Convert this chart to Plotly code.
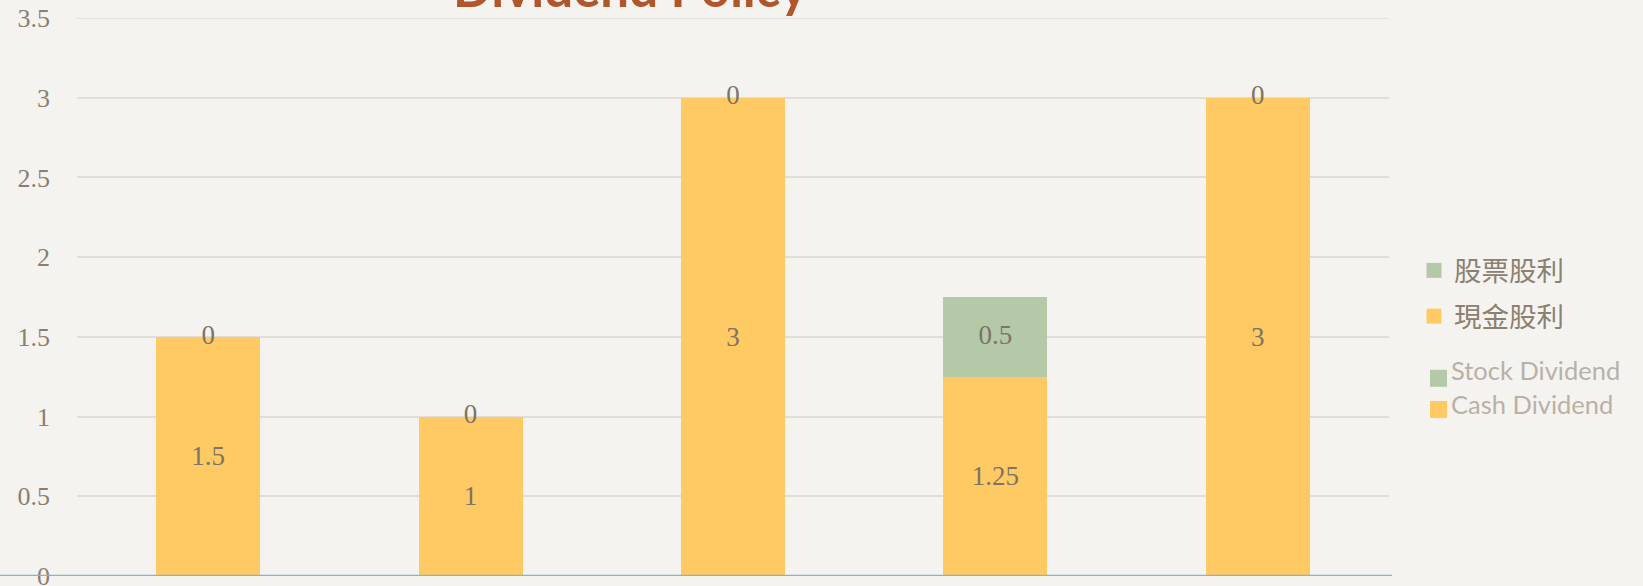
import plotly.graph_objects as go

# ---- data ----
categories = ["1", "2", "3", "4", "5"]
cash_dividend = [1.5, 1.0, 3.0, 1.25, 3.0]
stock_dividend = [0.0, 0.0, 0.0, 0.5, 0.0]
legend_zh = ["股票股利", "現金股利"]
legend_en = ["Stock Dividend", "Cash Dividend"]
y_ticks = [0, 0.5, 1, 1.5, 2, 2.5, 3, 3.5]
y_tick_labels = ["0", "0.5", "1", "1.5", "2", "2.5", "3", "3.5"]
y_max = 3.5
title_text = "Dividend Policy"

# ---- style ----
W, H = 1643, 586
ML, MR, MT, MB = 77, 254, 18, 10
PW, PH = W - ML - MR, H - MT - MB
ORANGE = "#FFCA63"
GREEN = "#B4C9A8"
BG = "#F4F3F0"
GRID = "#E2DDD7"
LABEL_C = "#7C7466"
TICK_C = "#8A7F70"


def px_x(x):
    return (x - ML) / PW


def px_y(y):
    return (H - MB - y) / PH


fig = go.Figure()

fig.add_trace(go.Bar(
    x=categories, y=cash_dividend, name=legend_zh[1],
    marker=dict(color=ORANGE, line=dict(width=0)),
    text=[f"{v:g}" for v in cash_dividend], texttemplate="%{text}",
    textposition="inside", insidetextanchor="middle", textangle=0,
    insidetextfont=dict(family="Liberation Serif", size=27, color=LABEL_C),
    showlegend=False, hoverinfo="skip",
))
fig.add_trace(go.Bar(
    x=categories, y=stock_dividend, name=legend_zh[0],
    marker=dict(color=GREEN, line=dict(width=0)),
    showlegend=False, hoverinfo="skip",
))
# labels for stock dividend segments (centred on segment, also for zero values)
fig.add_trace(go.Scatter(
    x=categories, y=[c + s / 2 for c, s in zip(cash_dividend, stock_dividend)],
    mode="text", text=[f"{v:g}" for v in stock_dividend],
    textfont=dict(family="Liberation Serif", size=27, color=LABEL_C),
    showlegend=False, hoverinfo="skip", cliponaxis=False,
))
# legend entries (Chinese)
for name, col, grp in [(legend_zh[0], GREEN, "g1"), (legend_zh[1], ORANGE, "g2")]:
    fig.add_trace(go.Scatter(
        x=[None], y=[None], mode="markers", name=name, legendgroup=grp,
        marker=dict(symbol="square", size=15, color=col),
    ))

shapes = [
    # top gridline (plotly omits the one at the range edge)
    dict(type="line", xref="paper", yref="y", x0=0, x1=1, y0=y_max, y1=y_max,
         line=dict(color=GRID, width=1.5), layer="below"),
    dict(type="line", xref="paper", yref="y", x0=px_x(0), x1=px_x(1392), y0=0, y1=0,
         line=dict(color="#8DB3C3", width=2.5), layer="above"),
]
annotations = [
    dict(text=f"<b>{title_text}</b>", xref="paper", yref="paper",
         x=px_x(630), y=px_y(20), xanchor="center", yanchor="bottom",
         showarrow=False, font=dict(family="Lato", size=51, color="#B0562B")),
]
# English legend overlay
sq_centres = [378.3, 409.5]
txt_centres = [369.5, 404.0]
for name, col, cy, ty in zip(legend_en, [GREEN, ORANGE], sq_centres, txt_centres):
    shapes.append(dict(type="rect", xref="paper", yref="paper",
                       x0=px_x(1430), x1=px_x(1447), y0=px_y(cy - 8.5), y1=px_y(cy + 8.5),
                       fillcolor=col, line=dict(width=0)))
    annotations.append(dict(text=name, xref="paper", yref="paper",
                            x=px_x(1449), y=px_y(ty), xanchor="left", yanchor="middle",
                            showarrow=False,
                            font=dict(family="Lato", size=25.5, color="#B9B1A6")))

fig.update_layout(
    width=W, height=H,
    margin=dict(l=ML, r=MR, t=MT, b=MB, pad=0, autoexpand=False),
    paper_bgcolor=BG, plot_bgcolor=BG,
    barmode="stack", bargap=0.604,
    showlegend=True,
    legend=dict(x=px_x(1414), y=px_y(246), xanchor="left", yanchor="top",
                font=dict(family="Noto Sans CJK TC", size=27.5, color="#8C8070"),
                bgcolor="rgba(0,0,0,0)", tracegroupgap=7, traceorder="grouped",
                itemwidth=30),
    xaxis=dict(showticklabels=False, showgrid=False, zeroline=False, showline=False,
               ticks="", range=[-0.5, 4.5], automargin=False),
    yaxis=dict(range=[0, y_max], tickvals=y_ticks, ticktext=y_tick_labels,
               showgrid=True, gridcolor=GRID, gridwidth=1.5,
               zeroline=False, showline=False, ticks="", automargin=False,
               ticklabelstandoff=26, ticklabeloverflow="allow",
               tickfont=dict(family="Liberation Serif", size=26, color=TICK_C)),
    shapes=shapes, annotations=annotations,
)

fig.write_html("out.html", config={"displayModeBar": False},
               post_script="document.body.style.margin='0';")
